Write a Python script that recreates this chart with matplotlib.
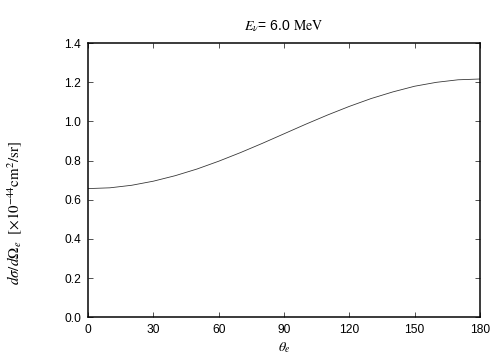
import numpy as np
import matplotlib
matplotlib.use("Agg")
import matplotlib.pyplot as plt

# valores
theta = [0, 10, 20, 30, 40, 50, 60, 70, 80, 90,
         100, 110, 120, 130, 140, 150, 160, 170, 180]
dsigma = [0.657, 0.661, 0.674, 0.695, 0.723, 0.757, 0.797, 0.841, 0.888, 0.937,
          0.986, 1.033, 1.077, 1.117, 1.151, 1.180, 1.200, 1.213, 1.217]

xticks = [0, 30, 60, 90, 120, 150, 180]
yticks = [0.0, 0.2, 0.4, 0.6, 0.8, 1.0, 1.2, 1.4]

plt.rcParams['mathtext.fontset'] = 'stix'
plt.rcParams['font.family'] = ['Liberation Sans', 'DejaVu Sans']

fig = plt.figure(figsize=(7, 5), dpi=72)
ax = fig.add_axes([0.175, 0.119, 0.777, 0.761])

ax.plot(theta, dsigma, color='#333333', lw=0.8)

ax.set_xlim(0, 180)
ax.set_ylim(0, 1.4)
ax.set_xticks(xticks)
ax.set_yticks(yticks)
ax.set_yticklabels([f"{v:.1f}" for v in yticks])
ax.tick_params(direction='in', length=5, width=1, top=True, right=True,
               labelsize=12, pad=7, color='#555555')
for s in ax.spines.values():
    s.set_linewidth(1.5)

ax.set_title(r"$E_\nu$= 6.0 $\mathrm{MeV}$", fontsize=14, pad=13)
ax.set_xlabel(r"$\theta_e$", fontsize=14, labelpad=4)
ax.set_ylabel(r"$d\sigma/d\Omega_e\ \ [\times10^{-44}\mathrm{cm}^2/\mathrm{sr}]$",
              fontsize=15)
ax.yaxis.set_label_coords(-0.165, 0.38)

fig.savefig("out.png", dpi=72)
